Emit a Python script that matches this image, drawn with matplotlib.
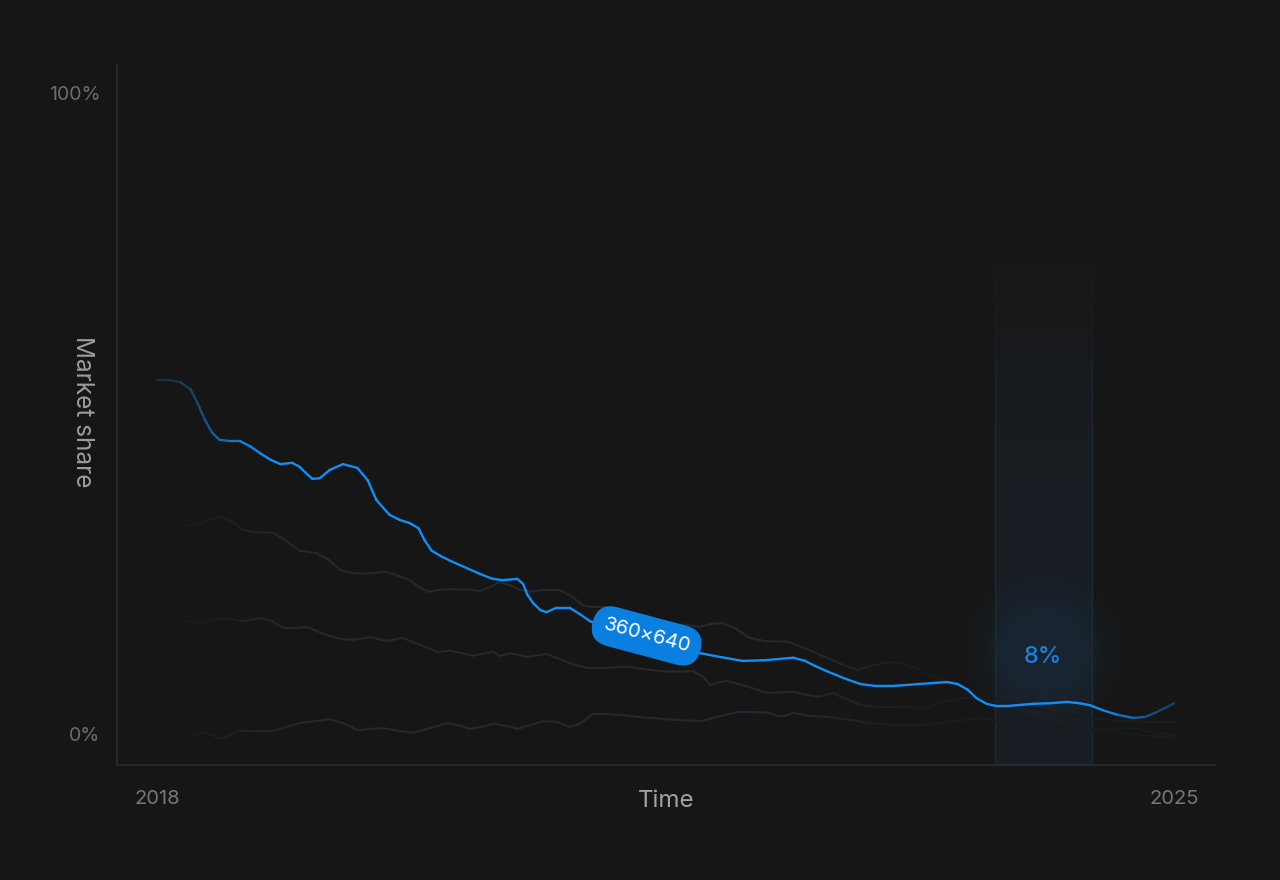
import numpy as np
import matplotlib
matplotlib.use("Agg")
from matplotlib import pyplot as plt
from matplotlib.collections import LineCollection
from matplotlib.colors import to_rgb

plt.rcParams['font.family'] = ['Inter', 'DejaVu Sans']

# data (year, market share %)
blue_x = [2018.00, 2018.09, 2018.16, 2018.23, 2018.28, 2018.33, 2018.38, 2018.43, 2018.50, 2018.57,
          2018.64, 2018.71, 2018.78, 2018.85, 2018.93, 2018.98, 2019.04, 2019.07, 2019.12, 2019.19,
          2019.28, 2019.38, 2019.45, 2019.51, 2019.60, 2019.67, 2019.74, 2019.80, 2019.84, 2019.89,
          2019.95, 2020.02, 2020.13, 2020.22, 2020.31, 2020.38, 2020.48, 2020.52, 2020.55, 2020.59,
          2020.64, 2020.68, 2020.75, 2020.84, 2020.91, 2020.98, 2021.12, 2021.26, 2021.39, 2021.53,
          2021.67, 2021.74, 2021.88, 2022.03, 2022.18, 2022.38, 2022.46, 2022.53, 2022.61, 2022.74,
          2022.84, 2022.94, 2023.07, 2023.25, 2023.44, 2023.51, 2023.58, 2023.64, 2023.71, 2023.77,
          2023.87, 2024.03, 2024.15, 2024.26, 2024.35, 2024.42, 2024.51, 2024.61, 2024.72, 2024.80,
          2024.88, 2024.95, 2025.00]
blue_y = [55.2, 55.2, 54.9, 53.8, 51.6, 49.0, 47.0, 45.9, 45.7, 45.7,
          44.9, 43.8, 42.8, 42.1, 42.3, 41.7, 40.4, 39.8, 39.9, 41.2,
          42.1, 41.5, 39.6, 36.5, 34.2, 33.4, 32.9, 32.1, 30.3, 28.6,
          27.8, 27.0, 25.9, 25.0, 24.2, 24.0, 24.2, 23.4, 21.7, 20.4,
          19.3, 19.0, 19.7, 19.7, 18.7, 17.6, 16.4, 15.4, 14.5, 13.7,
          13.1, 12.6, 12.0, 11.4, 11.5, 11.9, 11.4, 10.6, 9.8, 8.6,
          7.8, 7.5, 7.5, 7.8, 8.1, 7.8, 6.9, 5.6, 4.7, 4.4,
          4.4, 4.7, 4.8, 5.0, 4.8, 4.5, 3.7, 3.0, 2.5, 2.65,
          3.4, 4.2, 4.8]

g1_x = [2018.09, 2018.19, 2018.30, 2018.38, 2018.45, 2018.52, 2018.59, 2018.67, 2018.80, 2018.88,
        2018.98, 2019.10, 2019.18, 2019.26, 2019.34, 2019.42, 2019.57, 2019.66, 2019.74, 2019.81,
        2019.87, 2019.95, 2020.05, 2020.15, 2020.22, 2020.29, 2020.36, 2020.43, 2020.50, 2020.57,
        2020.67, 2020.77, 2020.86, 2020.93, 2020.99, 2021.08, 2021.22, 2021.39, 2021.57, 2021.74,
        2021.82, 2021.89, 2021.98, 2022.08, 2022.18, 2022.34, 2022.49, 2022.61, 2022.72, 2022.82,
        2022.91, 2023.02, 2023.11, 2023.22, 2023.32, 2023.42, 2023.53, 2023.66, 2023.80, 2024.01,
        2024.22, 2024.49, 2024.77, 2025.00]
g1_y = [32.6, 32.6, 32.8, 33.5, 33.9, 33.1, 31.8, 31.5, 31.4, 30.3,
        28.6, 28.2, 27.2, 25.6, 25.1, 25.0, 25.3, 24.7, 24.0, 22.8,
        22.2, 22.5, 22.6, 22.5, 22.3, 22.9, 23.7, 23.2, 22.5, 22.2,
        22.5, 22.5, 21.4, 20.1, 19.8, 19.8, 19.0, 18.1, 17.2, 16.7,
        17.2, 17.3, 16.5, 15.0, 14.5, 14.4, 13.1, 11.9, 10.8, 10.0,
        10.6, 11.2, 11.1, 10.3, 9.2, 8.4, 7.5, 6.4, 5.3, 4.1,
        3.1, 2.3, 1.9, 1.9]

g2_x = [2018.09, 2018.19, 2018.30, 2018.39, 2018.48, 2018.59, 2018.71, 2018.79, 2018.87, 2018.95,
        2019.03, 2019.12, 2019.19, 2019.27, 2019.35, 2019.47, 2019.58, 2019.69, 2019.81, 2019.93,
        2020.02, 2020.10, 2020.17, 2020.26, 2020.31, 2020.36, 2020.43, 2020.55, 2020.68, 2020.77,
        2020.86, 2020.96, 2021.08, 2021.23, 2021.39, 2021.53, 2021.69, 2021.76, 2021.81, 2021.86,
        2021.92, 2022.05, 2022.20, 2022.38, 2022.47, 2022.56, 2022.65, 2022.74, 2022.84, 2022.96,
        2023.07, 2023.18, 2023.30, 2023.41, 2023.53, 2023.66, 2023.80, 2024.01, 2024.22, 2024.44,
        2024.59, 2024.72, 2024.86, 2025.00]
g2_y = [18.1, 17.6, 17.3, 17.8, 18.1, 17.6, 18.1, 17.6, 16.5, 16.5,
        16.7, 15.9, 15.3, 14.8, 14.7, 15.1, 14.5, 15.0, 13.9, 12.8,
        13.0, 12.6, 12.2, 12.6, 12.8, 12.2, 12.6, 12.0, 12.5, 11.7,
        10.9, 10.3, 10.3, 10.5, 10.0, 9.7, 9.8, 8.9, 7.6, 8.0,
        8.3, 7.5, 6.4, 6.6, 6.1, 5.8, 6.4, 5.5, 4.5, 4.2,
        4.2, 4.2, 4.1, 5.0, 5.6, 5.8, 4.5, 2.5, 1.3, 0.6,
        0.8, 0.9, 0.2, -0.2]

g3_x = [2018.11, 2018.21, 2018.32, 2018.38, 2018.43, 2018.50, 2018.57, 2018.67, 2018.80, 2018.89,
        2018.98, 2019.09, 2019.19, 2019.28, 2019.38, 2019.47, 2019.56, 2019.66, 2019.76, 2019.88,
        2020.00, 2020.09, 2020.15, 2020.24, 2020.31, 2020.40, 2020.48, 2020.57, 2020.66, 2020.75,
        2020.84, 2020.91, 2021.00, 2021.12, 2021.26, 2021.39, 2021.57, 2021.74, 2021.88, 2021.99,
        2022.12, 2022.22, 2022.27, 2022.32, 2022.38, 2022.49, 2022.61, 2022.77, 2022.91, 2023.07,
        2023.30, 2023.44, 2023.56, 2023.66, 2023.80, 2024.01, 2024.22, 2024.44, 2024.63, 2024.83,
        2025.00]
g3_y = [-0.6, -0.3, 0.3, -0.2, -0.8, -0.2, 0.5, 0.5, 0.5, 1.1,
        1.7, 2.0, 2.3, 1.7, 0.6, 0.8, 0.9, 0.5, 0.2, 0.9,
        1.7, 1.3, 0.8, 1.1, 1.6, 1.3, 0.8, 1.4, 2.0, 1.9,
        1.1, 1.6, 3.1, 3.1, 2.8, 2.5, 2.2, 2.0, 2.8, 3.4,
        3.4, 3.3, 2.8, 2.8, 3.3, 2.8, 2.7, 2.2, 1.7, 1.4,
        1.4, 1.9, 2.2, 2.5, 1.9, 1.3, 0.9, 0.5, 0.2, -0.3,
        -0.6]

x_ticks = [2018, 2025]
x_labels = ['2018', '2025']
y_ticks = [0, 100]
y_labels = ['0%', '100%']
band = (2023.77, 2024.435)
badge_text = '360×640'
badge_pos = (2021.37, 15.3)
band_label = '8%'
band_label_pos = (2024.10, 12.0)

BG = '#161616'
BLUE = '#118ff7'
GRAY = '#24292e'
bg_rgb = np.array(to_rgb(BG))


def smooth(t):
    t = np.clip(t, 0, 1)
    return t * t * (3 - 2 * t)


def fade_line(ax, xs, ys, color, alpha_fn, lw, z, by_y=False):
    xs = np.asarray(xs, dtype=float)
    ys = np.asarray(ys, dtype=float)
    pts = np.column_stack([xs, ys]).reshape(-1, 1, 2)
    segs = np.concatenate([pts[:-1], pts[1:]], axis=1)
    mid = (ys[:-1] + ys[1:]) / 2 if by_y else (xs[:-1] + xs[1:]) / 2
    a = alpha_fn(mid)[:, None]
    c = bg_rgb + (np.array(to_rgb(color)) - bg_rgb) * a
    lc = LineCollection(segs, colors=c, linewidths=lw, capstyle='round',
                        joinstyle='round', zorder=z)
    ax.add_collection(lc)


def blue_alpha(x):
    return (0.2 + 0.8 * smooth((x - 2018.0) / 0.8)) * (1 - 0.65 * smooth((x - 2024.42) / 0.6))


def gray_alpha(x):
    return (0.1 + 0.9 * smooth((x - 2018.05) / 1.0)) * (1 - 0.75 * smooth((x - 2022.3) / 1.1))


def edge_alpha(y):
    return 1 - smooth((y - 40) / 44)


fig = plt.figure(figsize=(12.8, 8.8), dpi=100, facecolor=BG)
ax = fig.add_axes([117 / 1280, 115 / 880, 1098 / 1280, 700 / 880])
ax.set_facecolor(BG)
xlim = (2017.725, 2025.282)
ylim = (-4.84, 104.37)

# highlight band with vertical gradient
grad = np.zeros((300, 1, 4))
grad[..., :3] = to_rgb('#1c2631')
yy = np.linspace(ylim[0], 85, 300)
grad[:, 0, 3] = 0.5 * (1 - smooth((yy - 35) / 50))
ax.imshow(grad, extent=[band[0], band[1], ylim[0], 85], origin='lower',
          aspect='auto', interpolation='bilinear', zorder=1)
edge_y = np.linspace(ylim[0], 84, 60)
for bx in band:
    fade_line(ax, np.full_like(edge_y, bx), edge_y, '#1d2a36', edge_alpha, 1.0, 1.2, by_y=True)

# glow behind the label
gx, gy = band_label_pos[0], 13.0
rx, ry = 0.72, 16.3
n = 200
u = np.linspace(-1, 1, n)
U, V = np.meshgrid(u, u)
r = np.sqrt(U ** 2 + V ** 2)
glow = np.zeros((n, n, 4))
glow[..., :3] = to_rgb('#1b3a56')
glow[..., 3] = 0.28 * (1 - smooth((r - 0.25) / 0.75)) ** 1.5
ax.imshow(glow, extent=[gx - rx, gx + rx, gy - ry, gy + ry], origin='lower',
          aspect='auto', interpolation='bilinear', zorder=1.1)

for xs, ys in [(g1_x, g1_y), (g2_x, g2_y), (g3_x, g3_y)]:
    fade_line(ax, xs, ys, GRAY, gray_alpha, 1.5, 2)
fade_line(ax, blue_x, blue_y, BLUE, blue_alpha, 1.7, 3)

ax.text(band_label_pos[0], band_label_pos[1], band_label, color='#1a80dc',
        fontsize=17, fontweight='medium', ha='center', va='center', zorder=4)

ax.text(badge_pos[0], badge_pos[1], badge_text, rotation=-15, rotation_mode='anchor',
        ha='center', va='center', color='white', fontsize=14.5, zorder=5,
        bbox=dict(boxstyle='round,pad=0.55,rounding_size=1.0', fc='#0a7fe0', ec='none'))

ax.set_xlim(*xlim)
ax.set_ylim(*ylim)
ax.set_xticks(x_ticks)
ax.set_xticklabels(x_labels)
ax.set_yticks(y_ticks)
ax.set_yticklabels(y_labels)
ax.tick_params(axis='x', length=0, pad=18, labelsize=14.5, labelcolor='#777777')
ax.tick_params(axis='y', length=0, pad=12, labelsize=14, labelcolor='#6c6c6c')
for s in ['top', 'right']:
    ax.spines[s].set_visible(False)
for s in ['left', 'bottom']:
    ax.spines[s].set_color('#252a2f')
    ax.spines[s].set_linewidth(1.5)

ax.set_xlabel('Time', fontsize=17.3, color='#a3a3a3')
ax.xaxis.set_label_coords(0.5, -0.035)
ax.text(-0.031, 0.504, 'Market share', transform=ax.transAxes, rotation=-90,
        rotation_mode='anchor', ha='center', va='center', fontsize=17.5, color='#9c9c9c')

fig.savefig('out.png', dpi=100, facecolor=BG)
